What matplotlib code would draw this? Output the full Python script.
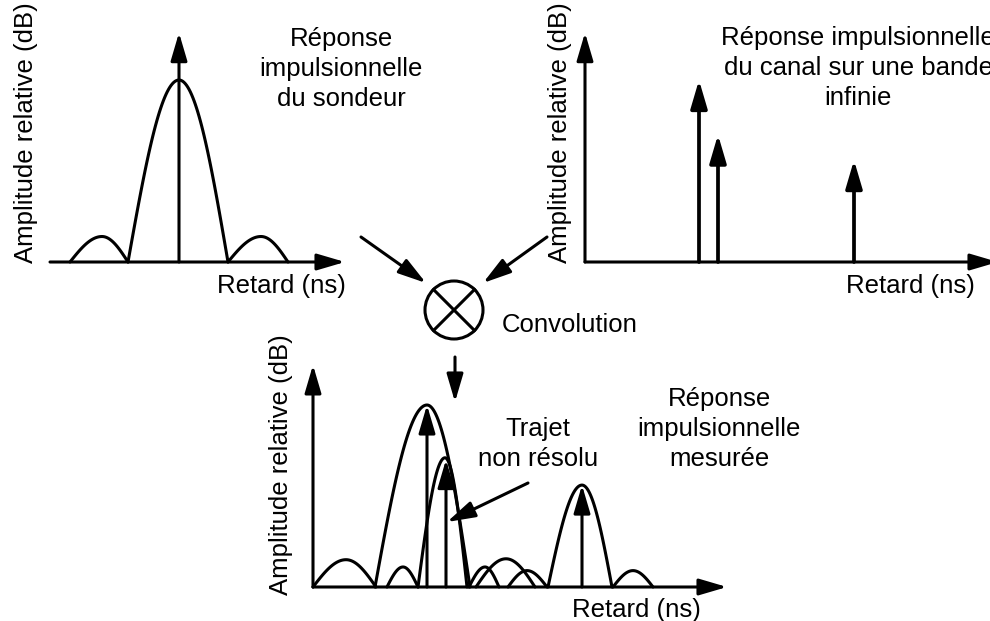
import numpy as np
import matplotlib.pyplot as plt
from matplotlib.patches import Circle

plt.rcParams['font.family'] = ['Liberation Sans', 'DejaVu Sans']

W, H = 990, 621
PX_X = 10.0    # pixels per delay unit
PX_Y = 182.0   # pixels per amplitude unit

# Réponse impulsionnelle du sondeur : lobes (début, pic, fin, hauteur)
sondeur_start = [-10.9, -5.1, 4.9]
sondeur_peak = [-7.7, 0.0, 8.2]
sondeur_end = [-5.1, 4.9, 10.9]
sondeur_height = [0.14, 1.0, 0.14]
sondeur_impulse = 1.26

# Réponse du canal sur une bande infinie : trajets
canal_delay = [11.4, 13.3, 26.9]
canal_amp = [1.0, 0.70, 0.56]

# Réponse mesurée : lobes
mesure_start = [0.0, 6.2, 7.4, 10.5, 15.6, 16.3, 19.5, 23.5, 30.0]
mesure_peak = [3.3, 11.4, 9.0, 13.2, 17.2, 19.3, 21.4, 26.9, 32.0]
mesure_end = [6.3, 15.7, 10.5, 15.4, 18.6, 22.2, 23.4, 29.9, 34.0]
mesure_height = [0.15, 1.0, 0.11, 0.71, 0.11, 0.155, 0.09, 0.56, 0.09]

LW = 2.2
HEAD = dict(arrowstyle='-|>,head_length=1.7,head_width=0.5', mutation_scale=10,
            color='black', shrinkA=0, shrinkB=0)


def panel_axes(fig, ox, oy):
    # full-figure axes whose data origin sits at pixel (ox, oy)
    ax = fig.add_axes([0, 0, 1, 1])
    ax.set_xlim(-ox / PX_X, (W - ox) / PX_X)
    ax.set_ylim(-(H - oy) / PX_Y, oy / PX_Y)
    ax.axis('off')
    ax.patch.set_alpha(0)
    return ax


def arrow(ax, x0, y0, x1, y1, lw=LW):
    ax.annotate('', xy=(x1, y1), xytext=(x0, y0),
                arrowprops=dict(lw=lw, **HEAD), annotation_clip=False)


def lobe(ax, a, p, b, h):
    t1 = np.linspace(a, p, 40)
    t2 = np.linspace(p, b, 40)
    y1 = h * np.sin(np.pi / 2 * (t1 - a) / (p - a))
    y2 = h * np.sin(np.pi / 2 * (b - t2) / (b - p))
    ax.plot(np.r_[t1, t2], np.r_[y1, y2], color='black', lw=LW,
            solid_capstyle='round', clip_on=False)


fig = plt.figure(figsize=(9.9, 6.21), dpi=100)

# --- sondeur
ax1 = panel_axes(fig, 179, 262)
arrow(ax1, -12.9, 0, 16.6, 0)
for a, p, b, h in zip(sondeur_start, sondeur_peak, sondeur_end, sondeur_height):
    lobe(ax1, a, p, b, h)
arrow(ax1, 0, 0, 0, sondeur_impulse)

# --- canal
ax2 = panel_axes(fig, 585, 262)
arrow(ax2, 0, 0, 41.3, 0)
arrow(ax2, 0, 0, 0, 1.26)
for d, amp in zip(canal_delay, canal_amp):
    arrow(ax2, d, 0, d, amp, lw=2.7)

# --- mesure
ax3 = panel_axes(fig, 313, 587)
arrow(ax3, 0, 0, 41.4, 0)
arrow(ax3, 0, 0, 0, 1.22)
for a, p, b, h in zip(mesure_start, mesure_peak, mesure_end, mesure_height):
    lobe(ax3, a, p, b, h)
for d, amp in zip(canal_delay, canal_amp):
    arrow(ax3, d, 0, d, amp)

# --- overlay in pixels: convolution symbol, arrows, texts
ov = fig.add_axes([0, 0, 1, 1])
ov.set_xlim(0, W)
ov.set_ylim(H, 0)
ov.axis('off')
ov.patch.set_alpha(0)

cx, cy, r = 454, 310, 29
ov.add_patch(Circle((cx, cy), r, fill=False, lw=LW, color='black'))
d = r * np.cos(np.pi / 4)
ov.plot([cx - d, cx + d], [cy - d, cy + d], color='black', lw=LW)
ov.plot([cx - d, cx + d], [cy + d, cy - d], color='black', lw=LW)

arrow(ov, 361, 237, 426, 283)
arrow(ov, 547, 237, 483, 283)
arrow(ov, 455, 357, 455, 402)
arrow(ov, 528, 483, 447, 522)

fs = 18.5
ls = 1.32
ov.text(341, 69, 'Réponse\nimpulsionnelle\ndu sondeur', fontsize=fs,
        ha='center', va='center', linespacing=ls)
ov.text(858, 68, 'Réponse impulsionnelle\ndu canal sur une bande\ninfinie',
        fontsize=fs, ha='center', va='center', linespacing=ls)
ov.text(719, 429, 'Réponse\nimpulsionnelle\nmesurée', fontsize=fs,
        ha='center', va='center', linespacing=ls)
ov.text(538, 444, 'Trajet\nnon résolu', fontsize=fs, ha='center', va='center',
        linespacing=ls)
ov.text(502, 325, 'Convolution', fontsize=fs, ha='left', va='center')
ov.text(281, 286, 'Retard (ns)', fontsize=fs, ha='center', va='center')
ov.text(910, 286, 'Retard (ns)', fontsize=fs, ha='center', va='center')
ov.text(636, 610, 'Retard (ns)', fontsize=fs, ha='center', va='center')
for x, y in [(26, 133), (560, 133), (281, 465)]:
    ov.text(x, y, 'Amplitude relative (dB)', fontsize=fs, rotation=90,
            ha='center', va='center')

fig.savefig('out.png', dpi=100)
